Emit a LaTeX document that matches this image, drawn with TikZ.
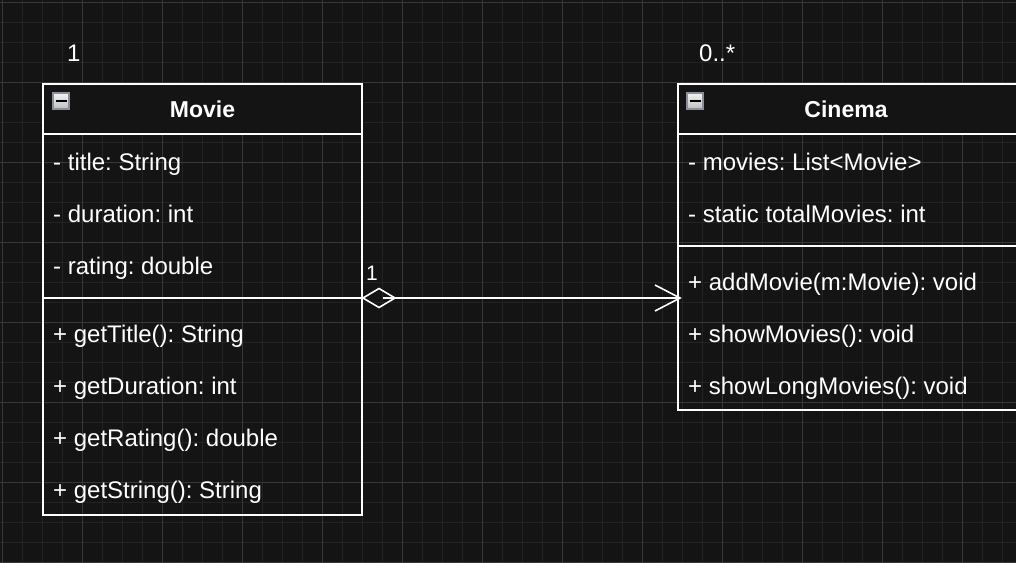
\documentclass[tikz,border=0pt]{standalone}
\usepackage{fontspec}
\setmainfont{Liberation Sans}
\frenchspacing
\definecolor{bgc}{HTML}{141414}
\definecolor{gminor}{HTML}{232323}
\definecolor{gmajor}{HTML}{383838}
\definecolor{iconborder}{HTML}{8A8F99}
\definecolor{icontop}{HTML}{F4F4F4}
\definecolor{iconbot}{HTML}{BDBDBD}
\tikzset{
  classbox/.style={draw=white, line width=2pt},
  headfill/.style={fill=bgc},
  member/.style={text=white, font=\fontsize{24}{28}\selectfont, anchor=base west, inner sep=0pt},
  classtitle/.style={text=white, font=\bfseries\fontsize{23}{27}\selectfont, anchor=base, inner sep=0pt},
  mult/.style={text=white, font=\fontsize{24}{28}\selectfont, anchor=base west, inner sep=0pt},
  multsmall/.style={text=white, font=\fontsize{21}{25}\selectfont, anchor=base west, inner sep=0pt},
  icon/.style={draw=iconborder, line width=2pt, top color=icontop, bottom color=iconbot, minimum size=16.5pt, inner sep=0pt},
  conn/.style={draw=white, line width=1.6pt},
}
\begin{document}
\begin{tikzpicture}[x=1pt,y=-1pt]
\useasboundingbox (0,0) rectangle (1016,562);
\fill[bgc] (0,0) rectangle (1016,562);
\begin{scope}
\clip (0,0) rectangle (1016,562);
% grid
\foreach \i in {0,...,51} {\draw[gminor, line width=1pt] ({2+20*\i},0) -- ({2+20*\i},562);}
\foreach \i in {0,...,28} {\draw[gminor, line width=1pt] (0,{2+20*\i}) -- (1016,{2+20*\i});}
\foreach \i in {0,...,12} {\draw[gmajor, line width=1pt] ({2+80*\i},0) -- ({2+80*\i},562);}
\foreach \i in {0,...,7} {\draw[gmajor, line width=1pt] (0,{2+80*\i}) -- (1016,{2+80*\i});}

% Movie class
\fill[headfill] (43,84) rectangle (362,134);
\draw[classbox] (43,84) rectangle (362,515);
\draw[classbox] (43,134) -- (362,134);
\draw[classbox] (43,298) -- (362,298);
\node[icon] (movieicon) at (61,101) {};
\draw[black, line width=2.2pt] ([xshift=-5.5pt]movieicon.center) -- ([xshift=5.5pt]movieicon.center);
\node[classtitle] (movietitle) at (202.5,117) {Movie};
\node[member] (m1) at (53,170) {- title: String};
\node[member] (m2) at (53,222) {- duration: int};
\node[member] (m3) at (53,274) {- rating: double};
\node[member] (m4) at (53,342) {+ getTitle(): String};
\node[member] (m5) at (53,394) {+ getDuration: int};
\node[member] (m6) at (53,446) {+ getRating(): double};
\node[member] (m7) at (53,498) {+ getString(): String};

% Cinema class
\fill[headfill] (678,84) rectangle (1030,134);
\draw[classbox] (678,84) rectangle (1030,410);
\draw[classbox] (678,134) -- (1030,134);
\draw[classbox] (678,246) -- (1030,246);
\node[icon] (cinemaicon) at (695,101) {};
\draw[black, line width=2.2pt] ([xshift=-5.5pt]cinemaicon.center) -- ([xshift=5.5pt]cinemaicon.center);
\node[classtitle] (cinematitle) at (846,117) {Cinema};
\node[member] (c1) at (688,170) {- movies: List<Movie>};
\node[member] (c2) at (688,222) {- static totalMovies: int};
\node[member] (c3) at (688,290) {+ addMovie(m:Movie): void};
\node[member] (c4) at (688,342) {+ showMovies(): void};
\node[member] (c5) at (688,394) {+ showLongMovies(): void};
\end{scope}

% multiplicities
\node[mult] (multmovie) at (67,61) {1};
\node[mult] (multcinema) at (699,61) {0..*};
\node[multsmall] (multdiamond) at (366,280) {1};

% aggregation connector
\coordinate (aggstart) at (363,298);
\coordinate (aggend) at (680,298);
\draw[conn, line join=miter] (aggstart) -- (379,288.5) -- (395,298) -- (379,307.5) -- cycle;
\draw[conn] (383,298) -- (aggend);
\draw[conn] ([xshift=-25pt,yshift=-13pt]aggend) -- (aggend) -- ([xshift=-25pt,yshift=13pt]aggend);
\end{tikzpicture}
\end{document}
